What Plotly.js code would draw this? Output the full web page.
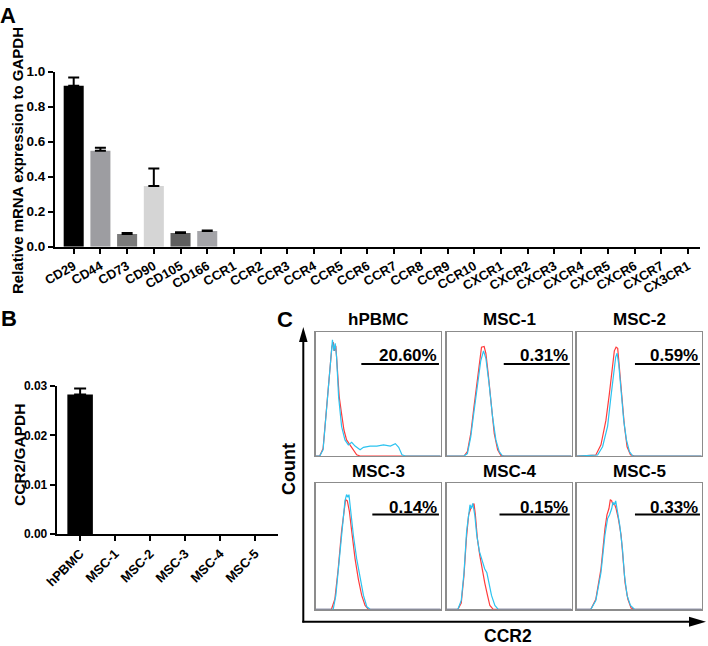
<!DOCTYPE html>
<html>
<head>
<meta charset="utf-8">
<script src="https://cdn.plot.ly/plotly-3.0.1.min.js"></script>
<style>html,body{margin:0;padding:0;background:#fff;}#chart{width:708px;height:646px;}</style>
</head>
<body>
<div id="chart"></div>
<script>
// ---------- Panel A data ----------
const genes = ["CD29","CD44","CD73","CD90","CD105","CD166","CCR1","CCR2","CCR3","CCR4","CCR5","CCR6","CCR7","CCR8","CCR9","CCR10","CXCR1","CXCR2","CXCR3","CXCR4","CXCR5","CXCR6","CXCR7","CX3CR1"];
const exprA = [0.92,0.549,0.073,0.347,0.078,0.09,0,0,0,0,0,0,0,0,0,0,0,0,0,0,0,0,0,0];
const errA  = [0.047,0.016,0.006,0.10,0.005,0.002,0,0,0,0,0,0,0,0,0,0,0,0,0,0,0,0,0,0];
const colorsA = ["#000000","#9d9da1","#7b7b7b","#d5d5d5","#5e5e5e","#a4a4a8","#000","#000","#000","#000","#000","#000","#000","#000","#000","#000","#000","#000","#000","#000","#000","#000","#000","#000"];

// ---------- Panel B data ----------
const samplesB = ["hPBMC","MSC-1","MSC-2","MSC-3","MSC-4","MSC-5"];
const ccr2B = [0.0283,0,0,0,0,0];
const errB  = [0.0012,0,0,0,0,0];

// ---------- Panel C data (box units 0-100) ----------
const histTitles = ["hPBMC","MSC-1","MSC-2","MSC-3","MSC-4","MSC-5"];
const histPct = ["20.60%","0.31%","0.59%","0.14%","0.15%","0.33%"];
const gateStart = [36.5,45.8,46.6,45.3,42.4,46.6];

const hPBMC_red_x = [0,3.2,5.9,8.6,10.8,12.9,14.0,15.1,16.1,17.2,18.8,20.7,22.6,24.7,27.4,30.1,32.8,35.5,100];
const hPBMC_red_y = [0,0,6,40,69,88,92,85,89,69,48,34,21,13,9,5,1,0,0];
const hPBMC_cyan_x = [0,3.2,5.9,8.6,11.3,12.6,13.4,14.5,15.6,16.7,18.3,20.7,23.4,26.1,28.8,31.5,35.5,38.2,43.5,48.9,54.3,59.7,63.7,66.4,69.0,71.8,100];
const hPBMC_cyan_y = [0,0,5,37,72,91,94,85,91,80,48,24,13,9,11,8,5,7,8,8,9,8,10,7,1,0,0];

const msc1_red_x = [0,14.0,16.7,19.4,22.0,24.7,26.9,28.0,30.1,31.5,33.3,35.5,38.2,40.9,43.5,46.2,100];
const msc1_red_y = [0,0,3.5,18,40,64,81,88,88.5,83,67,42,18,5,0.5,0,0];
const msc1_cyan_x = [0,14.0,16.7,19.4,22.0,24.7,27.4,29.6,31.5,34.1,36.8,39.5,42.2,44.9,100];
const msc1_cyan_y = [0,0,2,15.5,36,58,77,85,79,58,32,13,3.5,0,0];

const msc2_red_x = [0,15.3,19.4,23.4,26.1,28.8,30.1,31.5,32.8,34.1,36.0,38.2,40.3,43.0,46.2,100];
const msc2_red_y = [0,0.8,9,29,50,72,85,88,87,72,48,24,7.5,1,0,0];
const msc2_cyan_x = [0,16.7,20.7,24.7,27.4,29.6,31.2,32.3,33.6,35.5,37.6,39.8,42.2,44.9,100];
const msc2_cyan_y = [0,0.8,7.5,24,48,69,80,83,74.5,53,29,13,3.5,0,0];

const msc3_red_x = [0,12.6,15.3,18.0,20.7,22.6,23.9,25.3,26.9,28.8,31.5,34.1,36.8,39.5,42.2,100];
const msc3_red_y = [0,0,8,32,62,80,87,86,78,62,40,24,11,3,0,0];
const msc3_cyan_x = [0,14.0,16.1,18.8,21.5,23.4,24.7,25.8,26.6,28.0,30.1,32.8,35.5,38.2,40.9,43.5,100];
const msc3_cyan_y = [0,0,11,38,67,86,91,89,91,78,59,40,24,11,2,0,0];

const msc4_red_x = [0,9.1,11.8,14.0,15.9,17.7,19.4,21.0,22.0,23.1,24.7,26.6,28.5,30.6,32.8,34.7,37.4,100];
const msc4_red_y = [0,0,5,27,56,75,80,83,84,75,56,43,32,21,11,3,0,0];
const msc4_cyan_x = [0,9.1,11.8,14.0,16.1,17.7,18.8,19.9,21.0,22.6,24.2,26.3,28.5,30.6,32.3,33.9,36.0,38.7,41.4,100];
const msc4_cyan_y = [0,0,7,29,62,78,83,80,84,75,59,46,39,32,29,21,11,3,0,0];

const msc5_red_x = [0,11.3,15.3,19.4,22.6,24.2,25.8,26.9,28.0,29.0,30.1,31.5,33.3,35.5,37.1,38.7,40.9,43.5,46.2,100];
const msc5_red_y = [0,0,8,32,64,75,80,87,86,83,84,80,72,59,40,21,8,1,0,0];
const msc5_cyan_x = [0,11.3,15.3,19.4,22.6,24.7,26.3,28.0,29.0,30.1,31.2,32.8,34.4,36.6,38.2,40.3,43.0,46.2,100];
const msc5_cyan_y = [0,0,7,29,59,72,75,80,85,83,86,78,67,48,27,11,3,0,0];

const histRed = [[hPBMC_red_x,hPBMC_red_y],[msc1_red_x,msc1_red_y],[msc2_red_x,msc2_red_y],[msc3_red_x,msc3_red_y],[msc4_red_x,msc4_red_y],[msc5_red_x,msc5_red_y]];
const histCyan = [[hPBMC_cyan_x,hPBMC_cyan_y],[msc1_cyan_x,msc1_cyan_y],[msc2_cyan_x,msc2_cyan_y],[msc3_cyan_x,msc3_cyan_y],[msc4_cyan_x,msc4_cyan_y],[msc5_cyan_x,msc5_cyan_y]];

// ---------- layout helpers ----------
const W = 708, H = 646;
const px = v => v / W;
const py = v => 1 - v / H;
const FONT = "Liberation Sans, Arial, Helvetica, sans-serif";
const bold = (size) => ({family: FONT, size: size, color: "#000", weight: "bold"});
// zero-height bars carry no error bar
const errPlus = arr => arr.map(v => v > 0 ? v : NaN);
const errMinus = arr => arr.map(v => v > 0 ? 0 : NaN);

const traces = [];
traces.push({
  type: "bar", x: genes, y: exprA, xaxis: "x", yaxis: "y", width: 0.75,
  marker: {color: colorsA, line: {width: 0}},
  error_y: {type: "data", symmetric: false, array: errPlus(errA), arrayminus: errMinus(errA), color: "#000", thickness: 2, width: 5.5}
});
traces.push({
  type: "bar", x: samplesB, y: ccr2B, xaxis: "x2", yaxis: "y2", width: 0.73,
  marker: {color: "#000", line: {width: 0}},
  error_y: {type: "data", symmetric: false, array: errPlus(errB), arrayminus: errMinus(errB), color: "#000", thickness: 2, width: 6}
});

const boxX = [[315.7,440.7],[446.5,571.5],[576.7,701.7]];
const boxY = [[332.3,456],[483.3,609.3]];

const layout = {
  width: W, height: H, margin: {l:0, r:0, t:0, b:0},
  paper_bgcolor: "#fff", plot_bgcolor: "rgba(0,0,0,0)", showlegend: false,
  font: {family: FONT, color: "#000"},
  xaxis: {domain: [px(55), px(700)], anchor: "y", range: [-0.7, 23.45], type: "category",
    showline: true, linewidth: 2, linecolor: "#000", ticks: "outside", ticklen: 5, tickwidth: 2, tickcolor: "#000",
    tickangle: -30, tickfont: bold(13), showgrid: false, zeroline: false, fixedrange: true},
  yaxis: {domain: [py(246.7), py(71.7)], anchor: "x", range: [0, 1.0], dtick: 0.2, tickformat: ".1f",
    showline: true, linewidth: 2, linecolor: "#000", ticks: "outside", ticklen: 5, tickwidth: 2, tickcolor: "#000",
    tickfont: bold(13.5), showgrid: false, zeroline: false, fixedrange: true},
  xaxis2: {domain: [px(56.7), px(278)], anchor: "y2", range: [-0.67, 5.66], type: "category",
    showline: true, linewidth: 2, linecolor: "#000", ticks: "outside", ticklen: 5, tickwidth: 2, tickcolor: "#000",
    tickangle: -45, tickfont: bold(13), showgrid: false, zeroline: false, fixedrange: true},
  yaxis2: {domain: [py(534), py(386)], anchor: "x2", range: [0, 0.03], dtick: 0.01, tickformat: ".2f",
    showline: true, linewidth: 2, linecolor: "#000", ticks: "outside", ticklen: 5, tickwidth: 2, tickcolor: "#000",
    tickfont: bold(12), showgrid: false, zeroline: false, fixedrange: true},
  annotations: [], shapes: []
};

for (let i = 0; i < 6; i++) {
  const k = i + 3;
  const col = i % 3, row = Math.floor(i / 3);
  const xa = "x" + k, ya = "y" + k;
  layout["xaxis" + k] = {domain: [px(boxX[col][0]), px(boxX[col][1])], anchor: ya, range: [0, 100],
    showline: true, mirror: true, linecolor: "#8c8c8c", linewidth: 1.3, showticklabels: false, ticks: "",
    showgrid: false, zeroline: false, fixedrange: true, layer: "below traces"};
  layout["yaxis" + k] = {domain: [py(boxY[row][1]), py(boxY[row][0])], anchor: xa, range: [0, 100],
    showline: true, mirror: true, linecolor: "#8c8c8c", linewidth: 1.3, showticklabels: false, ticks: "",
    showgrid: false, zeroline: false, fixedrange: true, layer: "below traces"};
  traces.push({type: "scatter", mode: "lines", x: histRed[i][0], y: histRed[i][1], xaxis: xa, yaxis: ya,
    line: {color: "#ff3c3c", width: 1.2}, cliponaxis: false});
  traces.push({type: "scatter", mode: "lines", x: histCyan[i][0], y: histCyan[i][1], xaxis: xa, yaxis: ya,
    line: {color: "#2cc3f0", width: 1.2}, cliponaxis: false});
  const gy = row === 0 ? 74.4 : 75.2;
  layout.shapes.push({type: "line", xref: xa, yref: ya, x0: gateStart[i], x1: 98.6, y0: gy, y1: gy,
    line: {color: "#000", width: 2}});
  layout.annotations.push({xref: xa, yref: ya, x: 98.6, y: 81, xanchor: "right", yanchor: "middle",
    text: histPct[i], showarrow: false, font: bold(17)});
  layout.annotations.push({xref: "paper", yref: "paper", x: px((boxX[col][0] + boxX[col][1]) / 2),
    y: py(row === 0 ? 319.5 : 471.5), xanchor: "center", yanchor: "middle", text: histTitles[i], showarrow: false, font: bold(17)});
}

layout.annotations.push(
  {xref: "paper", yref: "paper", x: px(8), y: py(15), xanchor: "center", yanchor: "middle", text: "A", showarrow: false, font: bold(22)},
  {xref: "paper", yref: "paper", x: px(9), y: py(318), xanchor: "center", yanchor: "middle", text: "B", showarrow: false, font: bold(22)},
  {xref: "paper", yref: "paper", x: px(285), y: py(320), xanchor: "center", yanchor: "middle", text: "C", showarrow: false, font: bold(22)},
  {xref: "paper", yref: "paper", x: px(17), y: py(161), xanchor: "center", yanchor: "middle", textangle: -90,
    text: "Relative mRNA expression to GAPDH", showarrow: false, font: bold(15)},
  {xref: "paper", yref: "paper", x: px(19), y: py(455), xanchor: "center", yanchor: "middle", textangle: -90,
    text: "CCR2/GAPDH", showarrow: false, font: bold(15.5)},
  {xref: "paper", yref: "paper", x: px(289), y: py(469), xanchor: "center", yanchor: "middle", textangle: -90,
    text: "Count", showarrow: false, font: bold(18)},
  {xref: "paper", yref: "paper", x: px(508), y: py(636), xanchor: "center", yanchor: "middle",
    text: "CCR2", showarrow: false, font: bold(17.5)}
);

const tri = (pts) => "M " + pts.map(p => px(p[0]) + "," + py(p[1])).join(" L ") + " Z";
layout.shapes.push(
  {type: "line", xref: "paper", yref: "paper", x0: px(303.3), x1: px(303.3), y0: py(622.5), y1: py(338), line: {color: "#000", width: 2}},
  {type: "path", xref: "paper", yref: "paper", path: tri([[303.3,327],[299,342],[307.6,342]]), fillcolor: "#000", line: {width: 0}},
  {type: "line", xref: "paper", yref: "paper", x0: px(302.3), x1: px(692), y0: py(621.7), y1: py(621.7), line: {color: "#000", width: 2}},
  {type: "path", xref: "paper", yref: "paper", path: tri([[706,621.7],[689,616.7],[689,626.7]]), fillcolor: "#000", line: {width: 0}}
);

Plotly.newPlot("chart", traces, layout, {staticPlot: true, displayModeBar: false});
</script>
</body>
</html>
